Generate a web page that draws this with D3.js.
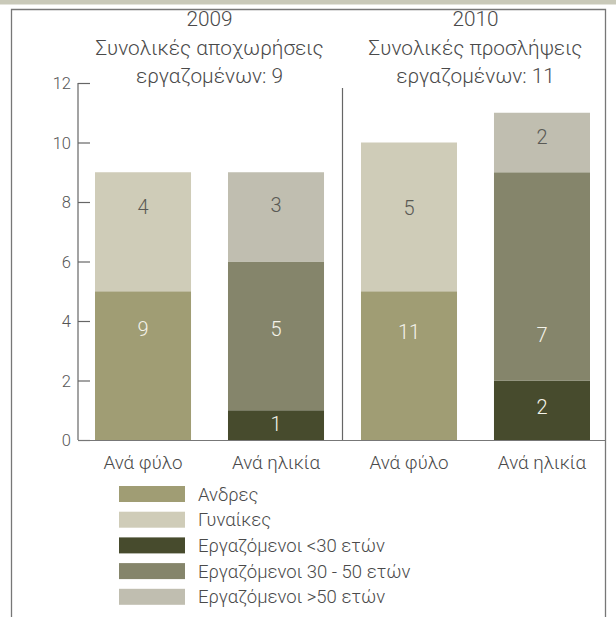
<!DOCTYPE html>
<html>
<head>
<meta charset="utf-8">
<script src="https://cdn.jsdelivr.net/npm/d3@7/dist/d3.min.js"></script>
<style>
  html, body { margin: 0; padding: 0; background: #fff; }
  svg { display: block; font-family: "Roboto", "Open Sans", sans-serif; font-weight: 300; }
</style>
</head>
<body>
<svg id="chart" width="616" height="617"></svg>
<script>
// Bar categories (one per bar, grouped by year)
const years = ["2009", "2010"];
const titleLines = [
  ["2009", "Συνολικές αποχωρήσεις", "εργαζομένων: 9"],
  ["2010", "Συνολικές προσλήψεις", "εργαζομένων: 11"]
];
const barNames = ["Ανά φύλο", "Ανά ηλικία", "Ανά φύλο", "Ανά ηλικία"];
const barYears = ["2009", "2009", "2010", "2010"];

// Series (stack order bottom → top)
const seriesNames = ["Ανδρες", "Γυναίκες", "Εργαζόμενοι <30 ετών", "Εργαζόμενοι 30 - 50 ετών", "Εργαζόμενοι >50 ετών"];
const men       = [5, 0, 5, 0];
const women     = [4, 0, 5, 0];
const under30   = [0, 1, 0, 2];
const age30to50 = [0, 5, 0, 7];
const over50    = [0, 3, 0, 2];

// Text printed inside each segment
const menLabels       = ["9", "", "11", ""];
const womenLabels     = ["4", "", "5", ""];
const under30Labels   = ["", "1", "", "2"];
const age30to50Labels = ["", "5", "", "7"];
const over50Labels    = ["", "3", "", "2"];

const yTicks = [0, 2, 4, 6, 8, 10, 12];

// ---- styling / layout ----
const colors = ["#a09d74", "#cfccb8", "#474b2d", "#85856b", "#c0beb0"];
const labelColors = ["#f4f3ea", "#5a5a55", "#f4f3ea", "#f4f3ea", "#5a5a55"];
// vertical anchor of each segment's label, in axis units
const labelLevel = [
  [3.75, 7.85, null, null, null],
  [null, null, 0.55, 3.75, 7.9],
  [3.65, 7.8, null, null, null],
  [null, null, 1.1, 3.55, 10.2]
];

const svg = d3.select("#chart");
const textColor = "#4a4a4a";

// top band and frame
svg.append("rect").attr("x", 0).attr("y", 0).attr("width", 616).attr("height", 4.5).attr("fill", "#c9c9b9");
svg.append("path")
  .attr("d", "M11.5,630 V9.5 H605.5 V630")
  .attr("fill", "none").attr("stroke", "#777").attr("stroke-width", 1.3);

const y = d3.scaleLinear().domain([0, 12]).range([440, 83]);
const x = d3.scaleBand().domain(d3.range(barNames.length)).range([95, 590]).paddingInner(0.278).paddingOuter(0);
const bw = x.bandwidth();

// y axis
const yAxis = d3.axisRight(y).tickValues(yTicks).tickSize(12).tickFormat(d3.format("d"));
const gy = svg.append("g").attr("transform", "translate(78,0)").call(yAxis);
gy.select(".domain").remove();
gy.append("line").attr("y1", y(12)).attr("y2", y(0)).attr("stroke", "#666").attr("stroke-width", 1.2);
gy.selectAll(".tick line").attr("stroke", "#666").attr("stroke-width", 1.2);
gy.selectAll(".tick text").attr("x", -7).attr("text-anchor", "end").attr("font-size", 16.5)
  .attr("fill", "#555").attr("font-family", "Roboto, sans-serif").attr("font-weight", 300).attr("dy", "0.35em");

// stacked data
const seriesData = [men, women, under30, age30to50, over50];
const seriesLabels = [menLabels, womenLabels, under30Labels, age30to50Labels, over50Labels];
const rows = barNames.map((n, i) => {
  const r = { i };
  seriesNames.forEach((s, k) => r[s] = seriesData[k][i]);
  return r;
});
const stack = d3.stack().keys(seriesNames)(rows);

const gBars = svg.append("g");
stack.forEach((layer, k) => {
  gBars.selectAll(null).data(layer.filter(d => d[1] > d[0])).join("rect")
    .attr("x", d => x(d.data.i))
    .attr("width", bw)
    .attr("y", d => y(d[1]))
    .attr("height", d => y(d[0]) - y(d[1]))
    .attr("fill", colors[k]);
});

// segment labels
const gLab = svg.append("g");
stack.forEach((layer, k) => {
  layer.forEach(d => {
    const i = d.data.i;
    const t = seriesLabels[k][i];
    if (!t) return;
    const lvl = labelLevel[i][k] != null ? labelLevel[i][k] : (d[0] + d[1]) / 2;
    gLab.append("text")
      .attr("x", x(i) + bw / 2)
      .attr("y", y(lvl))
      .attr("dy", "0.36em")
      .attr("text-anchor", "middle")
      .attr("font-size", 20)
      .attr("fill", labelColors[k])
      .text(t);
  });
});

// baseline and year separator
svg.append("line").attr("x1", 78).attr("x2", 606).attr("y1", y(0) + 0.5).attr("y2", y(0) + 0.5)
  .attr("stroke", "#777").attr("stroke-width", 1.2);
const sepX = (x(1) + bw + x(2)) / 2;
svg.append("line").attr("x1", sepX).attr("x2", sepX).attr("y1", 88).attr("y2", y(0))
  .attr("stroke", "#666").attr("stroke-width", 1.2);

// category labels
svg.append("g").selectAll("text").data(barNames).join("text")
  .attr("x", (d, i) => x(i) + bw / 2)
  .attr("y", 462)
  .attr("dy", "0.36em")
  .attr("text-anchor", "middle")
  .attr("font-size", 18.8)
  .attr("fill", textColor)
  .text(d => d);

// year titles, centred over each pair of bars
years.forEach((yr, j) => {
  const idx = barYears.map((b, i) => b === yr ? i : -1).filter(i => i >= 0);
  const cx = (x(idx[0]) + x(idx[idx.length - 1]) + bw) / 2;
  titleLines[j].forEach((line, l) => {
    svg.append("text")
      .attr("x", cx)
      .attr("y", 19 + l * 28.5)
      .attr("dy", "0.36em")
      .attr("text-anchor", "middle")
      .attr("font-size", 20.8)
      .attr("fill", textColor)
      .text(line);
  });
});

// legend
const lg = svg.append("g").attr("transform", "translate(119,486)");
seriesNames.forEach((s, k) => {
  const row = lg.append("g").attr("transform", `translate(0,${k * 25.7})`);
  row.append("rect").attr("width", 66).attr("height", 16).attr("fill", colors[k]);
  row.append("text").attr("x", 79).attr("y", 8).attr("dy", "0.36em")
    .attr("font-size", 18.5).attr("fill", textColor).text(s);
});
</script>
</body>
</html>
